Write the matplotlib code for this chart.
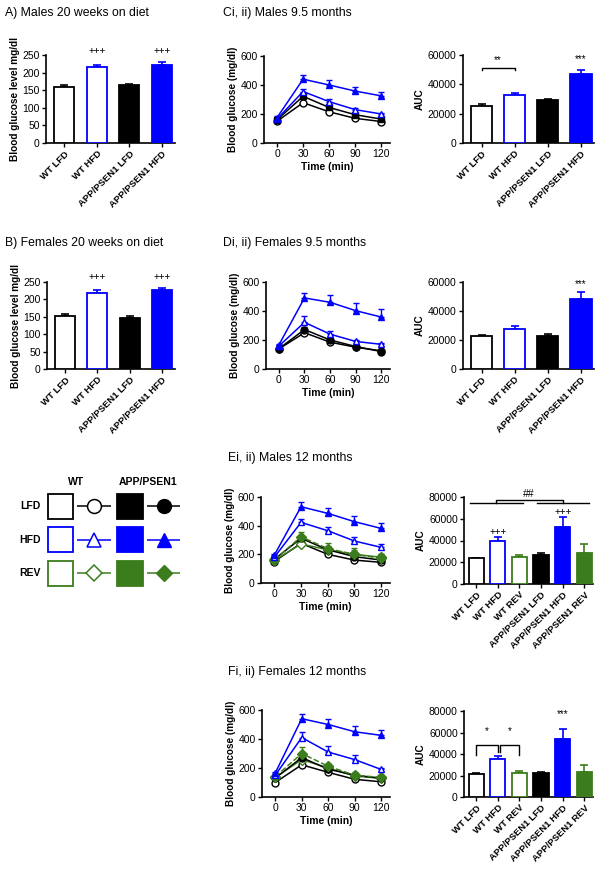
import numpy as np
import matplotlib
matplotlib.use("Agg")
import matplotlib.pyplot as plt
from matplotlib.patches import Rectangle

plt.rcParams['font.family'] = ['Liberation Sans', 'DejaVu Sans']

# ---- data ----
groups4 = ["WT LFD", "WT HFD", "APP/PSEN1 LFD", "APP/PSEN1 HFD"]
groups6 = ["WT LFD", "WT HFD", "WT REV", "APP/PSEN1 LFD", "APP/PSEN1 HFD", "APP/PSEN1 REV"]
times = [0, 30, 60, 90, 120]

# A / B: blood glucose after 20 weeks on diet
a_mean = [160, 217, 165, 222]
a_err = [5, 5, 4, 7]
b_mean = [153, 219, 147, 228]
b_err = [4, 9, 4, 5]

# C: males 9.5 months GTT
c_wt_lfd = [150, 278, 215, 170, 148]
c_app_lfd = [160, 322, 245, 195, 165]
c_wt_hfd = [165, 355, 285, 230, 200]
c_app_hfd = [175, 440, 400, 358, 325]
c_wt_lfd_err = [5, 8, 8, 5, 5]
c_app_lfd_err = [5, 12, 10, 8, 8]
c_wt_hfd_err = [8, 18, 18, 12, 10]
c_app_hfd_err = [10, 28, 32, 28, 28]
c_auc = [25500, 33000, 29000, 47000]
c_auc_err = [800, 1200, 700, 2500]

# D: females 9.5 months GTT
d_wt_lfd = [138, 250, 185, 150, 125]
d_app_lfd = [140, 272, 200, 155, 120]
d_wt_hfd = [158, 322, 240, 190, 170]
d_app_hfd = [165, 490, 460, 402, 358]
d_wt_lfd_err = [5, 8, 8, 5, 5]
d_app_lfd_err = [5, 15, 10, 8, 5]
d_wt_hfd_err = [10, 45, 25, 10, 8]
d_app_hfd_err = [10, 35, 50, 55, 55]
d_auc = [23000, 27500, 23000, 48500]
d_auc_err = [500, 2000, 1000, 4500]

# E: males 12 months GTT
e_wt_lfd = [150, 277, 200, 160, 144]
e_app_lfd = [165, 312, 232, 184, 160]
e_wt_rev = [158, 272, 232, 200, 180]
e_app_rev = [162, 322, 240, 200, 172]
e_wt_hfd = [180, 423, 365, 293, 249]
e_app_hfd = [195, 532, 486, 428, 381]
e_wt_lfd_err = [5, 8, 8, 5, 5]
e_app_lfd_err = [5, 12, 10, 8, 8]
e_wt_rev_err = [8, 20, 25, 30, 20]
e_app_rev_err = [10, 35, 40, 45, 30]
e_wt_hfd_err = [10, 25, 25, 25, 20]
e_app_hfd_err = [10, 30, 35, 40, 38]
e_auc = [23500, 40000, 24500, 27000, 52000, 28500]
e_auc_err = [800, 3500, 1800, 1500, 9500, 8000]

# F: females 12 months GTT
f_wt_lfd = [100, 222, 170, 122, 105]
f_app_lfd = [130, 272, 192, 150, 130]
f_wt_rev = [135, 258, 200, 145, 128]
f_app_rev = [140, 300, 212, 150, 135]
f_wt_hfd = [150, 410, 310, 258, 190]
f_app_hfd = [165, 540, 500, 450, 425]
f_wt_lfd_err = [5, 8, 8, 5, 5]
f_app_lfd_err = [5, 12, 10, 8, 8]
f_wt_rev_err = [8, 20, 15, 10, 8]
f_app_rev_err = [10, 45, 15, 10, 10]
f_wt_hfd_err = [10, 35, 42, 35, 10]
f_app_hfd_err = [10, 30, 35, 38, 40]
f_auc = [21000, 35000, 22000, 22500, 54000, 23500]
f_auc_err = [1500, 3000, 2500, 1000, 9500, 6000]

BLUE = '#0000ff'
GREEN = '#3b7d1c'
edge4 = ['black', BLUE, 'black', BLUE]
face4 = ['white', 'white', 'black', BLUE]
edge6 = ['black', BLUE, GREEN, 'black', BLUE, GREEN]
face6 = ['white', 'white', 'white', 'black', BLUE, GREEN]

W, H = 604, 871
fig = plt.figure(figsize=(W / 100, H / 100), dpi=100)


def add_ax(l, t, r, b):
    ax = fig.add_axes([l / W, 1 - b / H, (r - l) / W, (b - t) / H])
    for s in ['top', 'right']:
        ax.spines[s].set_visible(False)
    for s in ['left', 'bottom']:
        ax.spines[s].set_linewidth(1.2)
    ax.tick_params(direction='out', length=3, width=1, labelsize=7.5, pad=1.5)
    return ax


def bar_panel(ax, means, errs, labels, faces, edges, ylim, yticks, ylabel, width):
    n = len(means)
    x = np.arange(n)
    for i in range(n):
        ax.errorbar(x[i], means[i], yerr=[[0], [errs[i]]], fmt='none', ecolor=edges[i],
                    elinewidth=1.2, capsize=3, capthick=1.2, zorder=2)
    ax.bar(x, means, width=width, color=faces, edgecolor=edges, linewidth=1.3, zorder=3)
    ax.set_xlim(-0.56, n - 0.6)
    ax.set_ylim(*ylim)
    ax.set_yticks(yticks)
    ax.set_xticks(x)
    ax.set_xticklabels(labels, rotation=45, ha='right', rotation_mode='anchor',
                       fontsize=6.8, fontweight='bold')
    ax.set_ylabel(ylabel, fontsize=7.2, fontweight='bold', labelpad=2)


def line_panel(ax, series):
    for vals, errs, col, mk, filled, ls in series:
        ax.errorbar(times, vals, yerr=[np.zeros(len(errs)), errs], color=col, ecolor=col,
                    linestyle=ls, linewidth=1.1, elinewidth=1.0, capsize=2.5, capthick=1.0,
                    marker=mk, markersize=5, markeredgewidth=1.0,
                    markerfacecolor=col if filled else 'white', markeredgecolor=col)
    ax.set_xlim(-15, 130)
    ax.set_xticks(times)
    ax.set_ylim(0, 600)
    ax.set_yticks([0, 200, 400, 600])
    ax.set_xlabel('Time (min)', fontsize=7.5, fontweight='bold', labelpad=2)
    ax.set_ylabel('Blood glucose (mg/dl)', fontsize=7.2, fontweight='bold', labelpad=2)


def title(x, y, s):
    fig.text(x / W, 1 - y / H, s, fontsize=8.8, va='center', ha='left')


# ---- A ----
ax = add_ax(46, 55, 175, 143)
bar_panel(ax, a_mean, a_err, groups4, face4, edge4, (0, 250), [0, 50, 100, 150, 200, 250],
          'Blood glucose level mg/dl', 0.62)
for i in [1, 3]:
    ax.text(i, 262, '+++', ha='center', va='center', fontsize=7, clip_on=False)
title(5, 13, 'A) Males 20 weeks on diet')

# ---- B ----
ax = add_ax(47, 282, 175, 369)
bar_panel(ax, b_mean, b_err, groups4, face4, edge4, (0, 250), [0, 50, 100, 150, 200, 250],
          'Blood glucose level mg/dl', 0.62)
for i in [1, 3]:
    ax.text(i, 263, '+++', ha='center', va='center', fontsize=7, clip_on=False)
title(5, 243, 'B) Females 20 weeks on diet')

# ---- C ----
ax = add_ax(264, 56, 390, 143)
line_panel(ax, [
    (c_wt_lfd, c_wt_lfd_err, 'black', 'o', False, '-'),
    (c_app_lfd, c_app_lfd_err, 'black', 's', True, '-'),
    (c_wt_hfd, c_wt_hfd_err, BLUE, '^', False, '-'),
    (c_app_hfd, c_app_hfd_err, BLUE, '^', True, '-'),
])
title(223, 13, 'Ci, ii) Males 9.5 months')

ax = add_ax(463, 55, 594, 143)
bar_panel(ax, c_auc, c_auc_err, groups4, face4, edge4, (0, 60000), [0, 20000, 40000, 60000],
          'AUC', 0.65)
ax.plot([0, 0, 1, 1], [50000, 51000, 51000, 50000], color='black', lw=1)
ax.text(0.5, 56500, '**', ha='center', va='center', fontsize=7)
ax.text(3, 57500, '***', ha='center', va='center', fontsize=7)

# ---- D ----
ax = add_ax(266, 282, 390, 369)
line_panel(ax, [
    (d_wt_lfd, d_wt_lfd_err, 'black', 'o', False, '-'),
    (d_app_lfd, d_app_lfd_err, 'black', 'o', True, '-'),
    (d_wt_hfd, d_wt_hfd_err, BLUE, '^', False, '-'),
    (d_app_hfd, d_app_hfd_err, BLUE, '^', True, '-'),
])
title(223, 243, 'Di, ii) Females 9.5 months')

ax = add_ax(463, 282, 594, 369)
bar_panel(ax, d_auc, d_auc_err, groups4, face4, edge4, (0, 60000), [0, 20000, 40000, 60000],
          'AUC', 0.65)
ax.text(3, 58500, '***', ha='center', va='center', fontsize=7, clip_on=False)

# ---- legend key ----
lax = fig.add_axes([0, 0, 1, 1])
lax.set_xlim(0, W)
lax.set_ylim(H, 0)
lax.axis('off')
lax.text(76, 482, 'WT', ha='center', va='center', fontsize=7.5, fontweight='bold')
lax.text(148, 482, 'APP/PSEN1', ha='center', va='center', fontsize=7.5, fontweight='bold')
key_rows = [('LFD', 'black', 'o'), ('HFD', BLUE, '^'), ('REV', GREEN, 'D')]
for k, (lab, col, mk) in enumerate(key_rows):
    yc = 506 + k * 33.5
    lax.text(30, yc, lab, ha='center', va='center', fontsize=7.5, fontweight='bold')
    lax.add_patch(Rectangle((48, yc - 12.5), 25, 25, facecolor='white', edgecolor=col, lw=1.3))
    lax.add_patch(Rectangle((117, yc - 12.5), 25.5, 25, facecolor=col, edgecolor=col, lw=1.3))
    ms = 10 if mk != 'D' else 8.5
    lax.plot([77, 111], [yc, yc], color=col, lw=1.1, solid_capstyle='butt')
    lax.plot([94], [yc], marker=mk, markersize=ms, markerfacecolor='white',
             markeredgecolor=col, markeredgewidth=1.1, linestyle='none')
    lax.plot([147, 180], [yc, yc], color=col, lw=1.1, solid_capstyle='butt')
    lax.plot([163.5], [yc], marker=mk, markersize=ms, markerfacecolor=col,
             markeredgecolor=col, linestyle='none')

# ---- E ----
ax = add_ax(261, 497, 390, 583)
line_panel(ax, [
    (e_wt_lfd, e_wt_lfd_err, 'black', 'o', False, '-'),
    (e_wt_rev, e_wt_rev_err, GREEN, 'D', False, '-'),
    (e_app_lfd, e_app_lfd_err, 'black', 'o', True, '-'),
    (e_app_rev, e_app_rev_err, GREEN, 'D', True, '--'),
    (e_wt_hfd, e_wt_hfd_err, BLUE, '^', False, '-'),
    (e_app_hfd, e_app_hfd_err, BLUE, '^', True, '-'),
])
title(228, 458, 'Ei, ii) Males 12 months')

ax = add_ax(464, 497, 593, 584)
bar_panel(ax, e_auc, e_auc_err, groups6, face6, edge6, (0, 80000),
          [0, 20000, 40000, 60000, 80000], 'AUC', 0.7)
ax.text(1, 47500, '+++', ha='center', va='center', fontsize=7)
ax.text(4, 66500, '+++', ha='center', va='center', fontsize=7)
ax.plot([-0.28, 2.15], [74500, 74500], color='black', lw=1, clip_on=False)
ax.plot([2.8, 5.2], [74500, 74500], color='black', lw=1, clip_on=False)
ax.plot([0.9, 0.9, 4.0, 4.0], [74500, 76800, 76800, 74500], color='black', lw=1, clip_on=False)
ax.text(2.45, 83000, '##', ha='center', va='center', fontsize=7.5, clip_on=False)

# ---- F ----
ax = add_ax(262, 710, 390, 797)
line_panel(ax, [
    (f_wt_lfd, f_wt_lfd_err, 'black', 'o', False, '-'),
    (f_wt_rev, f_wt_rev_err, GREEN, 'D', False, '-'),
    (f_app_lfd, f_app_lfd_err, 'black', 'o', True, '-'),
    (f_app_rev, f_app_rev_err, GREEN, 'D', True, '--'),
    (f_wt_hfd, f_wt_hfd_err, BLUE, '^', False, '-'),
    (f_app_hfd, f_app_hfd_err, BLUE, '^', True, '-'),
])
title(228, 672, 'Fi, ii) Females 12 months')

ax = add_ax(464, 711, 593, 797)
bar_panel(ax, f_auc, f_auc_err, groups6, face6, edge6, (0, 80000),
          [0, 20000, 40000, 60000, 80000], 'AUC', 0.7)
ax.plot([0, 0, 1, 1], [38900, 48200, 48200, 41700], color='black', lw=1)
ax.plot([1.12, 1.12, 2, 2], [41700, 48200, 48200, 38900], color='black', lw=1)
ax.text(0.5, 61500, '*', ha='center', va='center', fontsize=7)
ax.text(1.55, 61500, '*', ha='center', va='center', fontsize=7)
ax.text(4, 77500, '***', ha='center', va='center', fontsize=7, clip_on=False)

fig.savefig('out.png', dpi=100, facecolor='white')
